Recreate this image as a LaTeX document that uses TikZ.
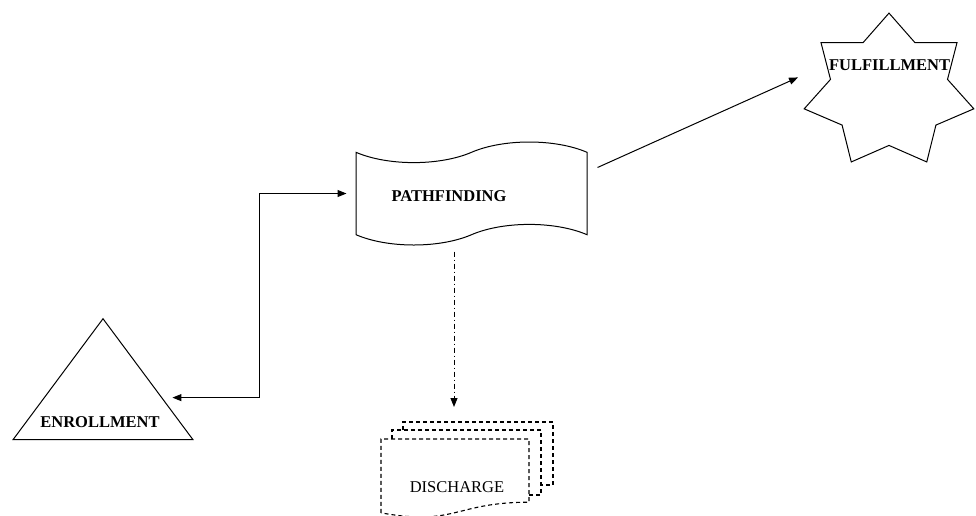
\documentclass[tikz,border=0pt]{standalone}
\usepackage{fontspec}
\setmainfont{Liberation Serif}
\usetikzlibrary{shapes.geometric,shapes.symbols,arrows.meta,calc}

\tikzset{
  shapeline/.style={draw, line width=1pt, inner sep=0pt},
  labeltext/.style={font=\fontsize{16.5}{20}\selectfont\bfseries},
  plaintext/.style={font=\fontsize{16.5}{20}\selectfont},
  docline/.style={line width=1.1pt, dash pattern=on 4pt off 3pt},
  link/.style={line width=1pt, -{Triangle[length=9pt,width=7pt]}},
  duallink/.style={line width=1pt, {Triangle[length=9pt,width=7pt]}-{Triangle[length=9pt,width=7pt]}},
}

\begin{document}
\begin{tikzpicture}[x=1pt,y=-1pt]
  \useasboundingbox (0,0) rectangle (976,515);
  \clip (0,0) rectangle (976,515);

  % main shapes
  \node[tape, shapeline, minimum width=231pt, minimum height=103pt, tape bend height=20.6pt] (path) at (471.5,193.5) {};
  \node[labeltext] (pathlabel) at (449,196) {PATHFINDING};

  \node[star, star points=7, star point ratio=1.45, minimum size=174pt, shapeline, yscale=0.9] (fulfil) at (889,91.4) {};
  \node[labeltext] (fulfillabel) at (889.5,65) {FULFILLMENT};

  \node[isosceles triangle, shape border rotate=90, isosceles triangle stretches, minimum width=180pt, minimum height=121pt, shapeline] (enroll) at (103,394.5) {};
  \node[labeltext] (enrolllabel) at (100,422) {ENROLLMENT};

  % stacked documents
  \draw[docline] (403,430) -- (403,422) -- (553,422) -- (553,485) -- (541,485);
  \draw[docline] (392,439) -- (392,430) -- (541,430) -- (541,495) -- (529,495);
  \draw[docline] (381,512.8) -- (381,439) -- (529,439) -- (529,502.2)
    .. controls (455,502.2) and (455,526.5) .. (381,512.8);
  \node[plaintext] (discharge) at (457,487) {DISCHARGE};

  % connectors
  \coordinate (enrollport) at ($(enroll.apex)!0.653!(enroll.right corner)$);
  \coordinate (elbow) at (259,0);
  \draw[duallink] ([xshift=10pt]enrollport) -| (elbow |- path.west) -- ([xshift=-9pt]path.west);
  \draw[link] ([shift={(10pt,26pt)}]path.east) -- ([shift={(-91pt,14pt)}]fulfil.center);
  \draw[link, dash pattern=on 5pt off 3pt on 1pt off 3pt] ([xshift=-17.5pt,yshift=-58pt]path.center) -- ([xshift=-3pt,yshift=80pt]discharge.center);
\end{tikzpicture}
\end{document}
